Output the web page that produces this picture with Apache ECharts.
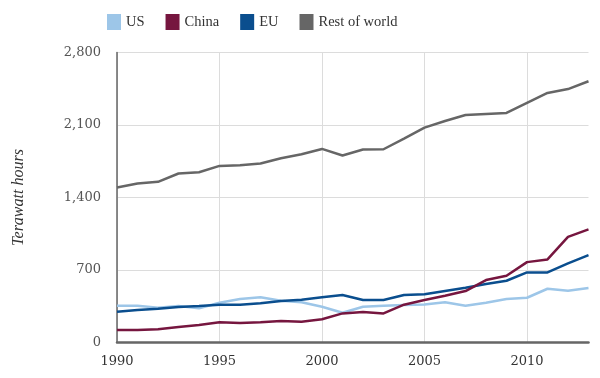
<!DOCTYPE html>
<html>
<head>
<meta charset="utf-8">
<script src="https://cdn.jsdelivr.net/npm/echarts@6/dist/echarts.min.js"></script>
<style>
html,body{margin:0;padding:0;background:#fff;}
#chart{width:600px;height:378px;}
</style>
</head>
<body>
<div id="chart"></div>
<script>
var years = ['1990','1991','1992','1993','1994','1995','1996','1997','1998','1999','2000','2001','2002','2003','2004','2005','2006','2007','2008','2009','2010','2011','2012','2013'];
var usValues = [355, 355, 336, 352, 330, 384, 419, 436, 403, 388, 345, 287, 345, 355, 362, 368, 388, 355, 384, 419, 432, 519, 500, 526];
var chinaValues = [120, 120, 127, 149, 169, 195, 188, 195, 207, 201, 224, 281, 294, 281, 365, 410, 451, 497, 603, 644, 776, 802, 1020, 1092];
var euValues = [297, 313, 326, 342, 352, 365, 365, 378, 400, 413, 436, 458, 410, 410, 458, 465, 497, 529, 564, 596, 677, 677, 764, 844];
var restValues = [1497, 1535, 1551, 1632, 1644, 1705, 1712, 1728, 1779, 1818, 1869, 1805, 1863, 1866, 1969, 2075, 2139, 2197, 2207, 2216, 2313, 2409, 2447, 2522];
var seriesNames = ['US', 'China', 'EU', 'Rest of world'];
var yTicks = [0, 700, 1400, 2100, 2800];

var colors = ['#9dc6e8', '#76163f', '#0a4e8e', '#666666'];
var numFont = 'DejaVu Serif';
var textFont = 'Liberation Serif';

function mk(name, data, color, z) {
  return {
    name: name, type: 'line', data: data, symbol: 'none', smooth: false,
    lineStyle: {color: color, width: 2.5}, itemStyle: {color: color}, z: z
  };
}

var chart = echarts.init(document.getElementById('chart'), null, {renderer: 'canvas'});
chart.setOption({
  animation: false,
  backgroundColor: '#ffffff',
  color: colors,
  legend: {
    data: seriesNames,
    left: 102, top: 9,
    icon: 'rect', itemWidth: 14, itemHeight: 16, itemGap: 21,
    textStyle: {fontFamily: textFont, fontSize: 14.5, color: '#333'}
  },
  grid: {left: 117, right: 11.5, top: 52.5, bottom: 35.5, containLabel: false},
  xAxis: {
    type: 'category', data: years, boundaryGap: false,
    axisLine: {show: true, lineStyle: {color: '#666', width: 2.5}},
    axisTick: {show: false},
    axisLabel: {interval: 4, margin: 13, fontFamily: numFont, fontSize: 13, color: '#333'},
    splitLine: {show: true, interval: 4, lineStyle: {color: '#dcdcdc', width: 1}}
  },
  yAxis: {
    type: 'value', min: yTicks[0], max: yTicks[yTicks.length - 1], interval: 700,
    name: 'Terawatt hours', nameLocation: 'middle', nameGap: 90,
    nameTextStyle: {fontFamily: textFont, fontStyle: 'italic', fontSize: 16, color: '#333'},
    axisLine: {show: true, lineStyle: {color: '#666', width: 1.5}},
    axisTick: {show: false},
    axisLabel: {margin: 16, fontFamily: numFont, fontSize: 13, color: '#555',
      formatter: function (v) { return v.toString().replace(/\B(?=(\d{3})+(?!\d))/g, ','); }},
    splitLine: {show: true, lineStyle: {color: '#dcdcdc', width: 1}}
  },
  series: [
    mk(seriesNames[3], restValues, colors[3], 2),
    mk(seriesNames[0], usValues, colors[0], 3),
    mk(seriesNames[2], euValues, colors[2], 4),
    mk(seriesNames[1], chinaValues, colors[1], 5)
  ]
});
</script>
</body>
</html>
